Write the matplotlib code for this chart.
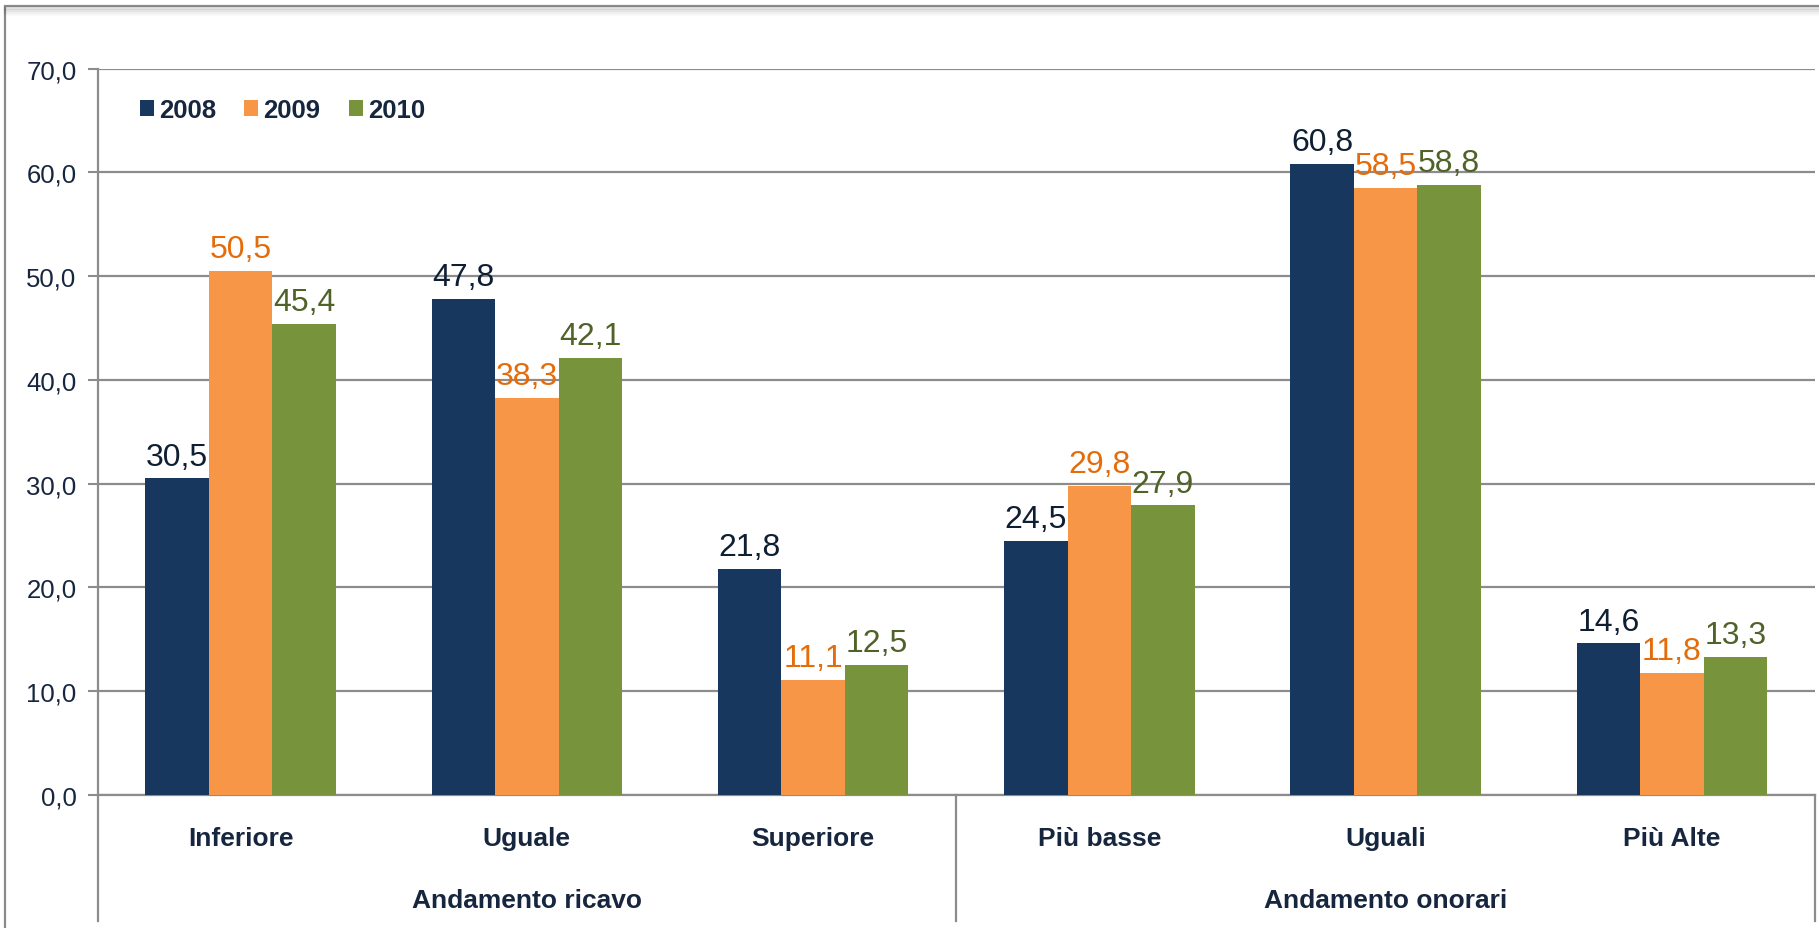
import numpy as np
import matplotlib
matplotlib.use("Agg")
import matplotlib.pyplot as plt
from matplotlib import font_manager
from matplotlib.patches import Rectangle
from matplotlib.lines import Line2D

# data
categories = ["Inferiore", "Uguale", "Superiore", "Più basse", "Uguali", "Più Alte"]
groups = ["Andamento ricavo", "Andamento onorari"]
years = ["2008", "2009", "2010"]
v2008 = [30.5, 47.8, 21.8, 24.5, 60.8, 14.6]
v2009 = [50.5, 38.3, 11.1, 29.8, 58.5, 11.8]
v2010 = [45.4, 42.1, 12.5, 27.9, 58.8, 13.3]
yticks = [0, 10, 20, 30, 40, 50, 60, 70]

bar_colors = ["#17375E", "#F79646", "#77933C"]
label_colors = ["#0F1F33", "#E46C0A", "#4F6228"]
text_col = "#17263F"
grid_col = "#8C8C8C"

plt.rcParams["font.family"] = ["Liberation Sans", "DejaVu Sans"]
names = {f.name for f in font_manager.fontManager.ttflist}
narrow = "Liberation Sans Narrow" if "Liberation Sans Narrow" in names else "Liberation Sans"
cat_size = 21 if narrow != "Liberation Sans" else 19

W, H = 1819, 929
fig = plt.figure(figsize=(W / 100, H / 100), dpi=100)

# outer frame with a soft shadow
for i, a in enumerate([0.10, 0.07, 0.04, 0.02]):
    fig.add_artist(Line2D([5 / W, 1.2], [1 - (9 + 2 * i) / H] * 2, transform=fig.transFigure,
                          color="#000000", alpha=a, lw=2.5))
fig.add_artist(Rectangle((5 / W, -0.1), 1.2, 1 - 7 / H + 0.1, transform=fig.transFigure,
                         fill=False, edgecolor="#8A8A8A", lw=1.6))

x0, x1, y0, y1 = 97.5, 1815, 69.6, 796
ax = fig.add_axes([x0 / W, 1 - y1 / H, (x1 - x0) / W, (y1 - y0) / H])

x = np.arange(len(categories))
w = 0.222
series = [v2008, v2009, v2010]
for k, vals in enumerate(series):
    xs = x + (k - 1) * w
    ax.bar(xs, vals, width=w, color=bar_colors[k], label=years[k], zorder=3)
    for xi, v in zip(xs, vals):
        ax.annotate(f"{v:.1f}".replace(".", ","), (xi, v), xytext=(0, 5),
                    textcoords="offset points", ha="center", va="bottom",
                    fontsize=23, color=label_colors[k], zorder=4)

ax.set_xlim(-0.5, len(categories) - 0.5)
ax.set_ylim(0, 70)
ax.set_yticks(yticks)
ax.set_yticklabels([f"{t:.1f}".replace(".", ",") for t in yticks], fontsize=18.5, color=text_col)
ax.tick_params(axis="y", length=7, width=1.5, color=grid_col, pad=8)
ax.set_xticks([])
ax.grid(axis="y", color=grid_col, lw=1.6, zorder=0)
for s in ["top", "right"]:
    ax.spines[s].set_visible(False)
for s in ["left", "bottom"]:
    ax.spines[s].set_color(grid_col)
    ax.spines[s].set_linewidth(1.6)

# category axis: two-level labels with separators
tr = ax.get_xaxis_transform()
yc = -(839 - y1) / (y1 - y0)
yg = -(901 - y1) / (y1 - y0)
yb = -(922 - y1) / (y1 - y0)
for xi, c in zip(x, categories):
    ax.text(xi, yc, c, transform=tr, ha="center", va="center", fontsize=cat_size,
            fontweight="bold", family=[narrow, "DejaVu Sans"], color=text_col)
for g, xc in zip(groups, [1, 4]):
    ax.text(xc, yg, g, transform=tr, ha="center", va="center", fontsize=cat_size,
            fontweight="bold", family=[narrow, "DejaVu Sans"], color=text_col)
for xs in [-0.5, 2.5, 5.5]:
    ax.plot([xs, xs], [0, yb], transform=tr, color=grid_col, lw=1.6, clip_on=False)

leg = ax.legend(loc="center left", bbox_to_anchor=(0.011, 0.943), ncol=3, frameon=False,
                handlelength=0.55, handleheight=0.55, handletextpad=0.2, columnspacing=1.1,
                prop={"size": 18.5, "weight": "bold"})
for t in leg.get_texts():
    t.set_color(text_col)

fig.savefig("out.png", dpi=100)
